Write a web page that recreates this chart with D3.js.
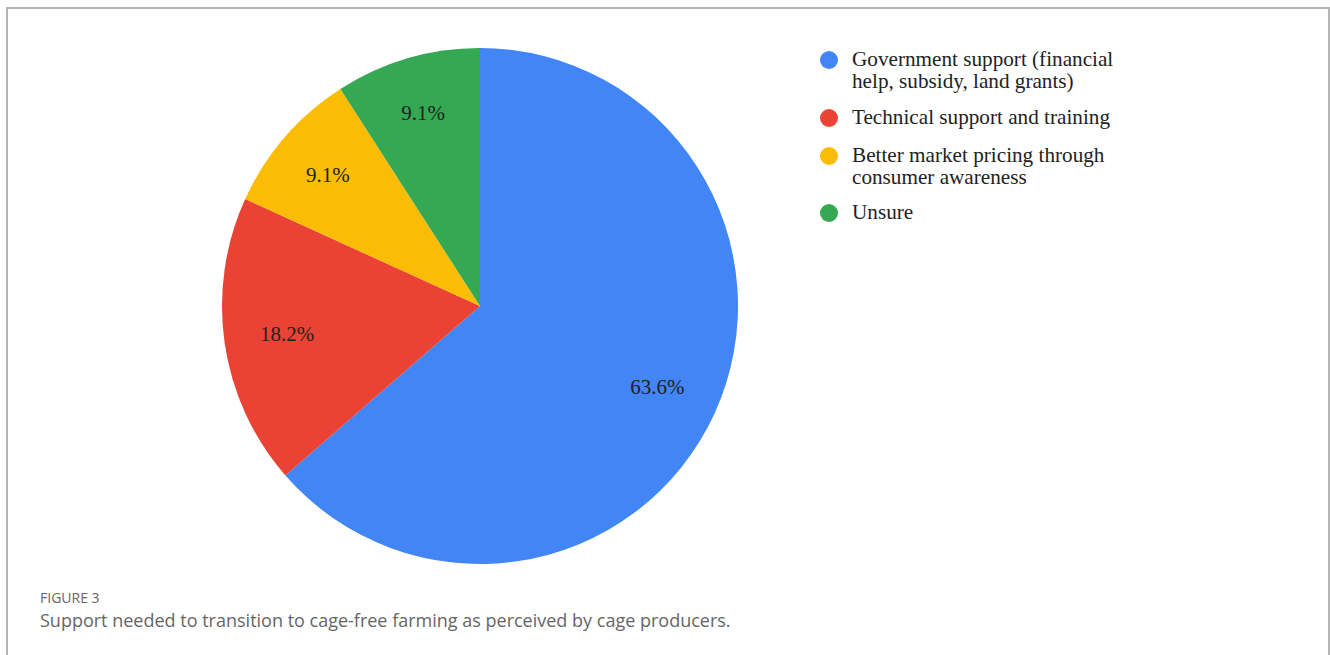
<!DOCTYPE html>
<html>
<head>
<meta charset="utf-8">
<script src="https://cdn.jsdelivr.net/npm/d3@7"></script>
<style>
  body { margin: 0; background: #fff; }
</style>
</head>
<body>
<div id="chart"></div>
<script>
/* Pie chart: support needed to transition to cage-free farming */

const categories = [
  "Government support (financial help, subsidy, land grants)",
  "Technical support and training",
  "Better market pricing through consumer awareness",
  "Unsure"
];
const values = [63.6, 18.2, 9.1, 9.1];
const legendLines = [
  ["Government support (financial", "help, subsidy, land grants)"],
  ["Technical support and training"],
  ["Better market pricing through", "consumer awareness"],
  ["Unsure"]
];
const colors = ["#4285f4", "#ea4335", "#fbbc04", "#34a853"];

const width = 1330,
  height = 655,
  cx = 480,
  cy = 306,
  radius = 258;

const data = categories.map((c, i) => ({key: c, value: values[i], lines: legendLines[i]}));

const svg = d3.select("#chart")
  .append("svg")
  .attr("width", width)
  .attr("height", height);

// frame around the figure (no bottom edge, it runs off the page)
svg.append("path")
  .attr("d", "M7,660 L7,8 L1329,8 L1329,660")
  .attr("fill", "none")
  .attr("stroke", "#b5b5b5")
  .attr("stroke-width", 2);

const pie = d3.pie().value(d => d.value).sort(null);
const arcs = pie(data);
const arc = d3.arc().innerRadius(0).outerRadius(radius);
// small slices get their label pushed a bit further out, like the original
const labelR = d => radius * (d.data.value < 10 ? 0.78 : 0.755);

const g = svg.append("g").attr("transform", `translate(${cx},${cy})`);

g.selectAll("path")
  .data(arcs)
  .join("path")
  .attr("fill", (d, i) => colors[i])
  .attr("d", arc);

g.append("g")
  .attr("font-family", "'Liberation Serif', 'Times New Roman', serif")
  .attr("font-size", 21)
  .attr("fill", "#222")
  .attr("text-anchor", "middle")
  .selectAll("text")
  .data(arcs)
  .join("text")
  .attr("transform", d => {
    const r = labelR(d);
    return `translate(${d3.arc().innerRadius(r).outerRadius(r).centroid(d)})`;
  })
  .attr("dy", "0.35em")
  .text(d => d3.format(".1f")(d.data.value) + "%");

// legend, one text element per line so wrapped lines don't collide
const legendY = [60, 118, 156, 213];
const legend = svg.append("g")
  .attr("font-family", "'Liberation Serif', 'Times New Roman', serif")
  .attr("font-size", 21.2)
  .attr("fill", "#222")
  .selectAll("g")
  .data(data)
  .join("g")
  .attr("transform", (d, i) => `translate(829,${legendY[i]})`);

legend.append("circle")
  .attr("r", 9)
  .attr("fill", (d, i) => colors[i]);

legend.selectAll("text")
  .data(d => d.lines)
  .join("text")
  .attr("x", 23)
  .attr("y", (d, i) => 6 + i * 22)
  .text(d => d);

// caption
svg.append("text")
  .attr("x", 40)
  .attr("y", 603)
  .attr("font-family", "'Open Sans', sans-serif")
  .attr("font-size", 14)
  .attr("fill", "#666")
  .text("FIGURE 3");

svg.append("text")
  .attr("x", 40)
  .attr("y", 627)
  .attr("font-family", "'Open Sans', sans-serif")
  .attr("font-size", 18)
  .attr("fill", "#666")
  .text("Support needed to transition to cage-free farming as perceived by cage producers.");
</script>
</body>
</html>
